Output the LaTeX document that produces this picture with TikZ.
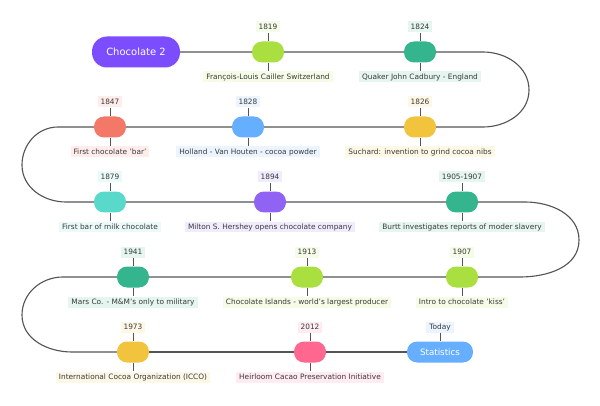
\documentclass[tikz,border=0pt]{standalone}
\usepackage{fontspec}
\setmainfont{DejaVu Sans}
\definecolor{cpurple}{HTML}{7C4DFF}
\definecolor{cviolet}{HTML}{9063F5}
\definecolor{cblue}{HTML}{66AEFF}
\definecolor{clime}{HTML}{A9E040}
\definecolor{cteal}{HTML}{34B58E}
\definecolor{cturq}{HTML}{58D9CA}
\definecolor{csalmon}{HTML}{F47868}
\definecolor{cyellow}{HTML}{F2C43E}
\definecolor{cpink}{HTML}{FF6791}
\definecolor{txt}{HTML}{3A3A3A}
\definecolor{trackgray}{HTML}{555555}

\begin{document}
\begin{tikzpicture}[x=0.05cm,y=-0.05cm,
  pill/.style={fill=#1,rounded corners=0.5cm,minimum width=1.6cm,minimum height=1.05cm,inner sep=0},
  yearlbl/.style={fill=#1!13,text=txt,font=\fontsize{10.5}{12}\selectfont,inner xsep=0.15cm,inner ysep=0,minimum height=0.55cm},
  desc/.style={fill=#1!13,text=txt,font=\fontsize{10.5}{12}\selectfont,inner xsep=0.15cm,inner ysep=0,minimum height=0.55cm},
  stem/.style={draw=trackgray,line width=0.9pt},
  track/.style={draw=trackgray,line width=1.6pt}]

  \useasboundingbox (0,0) rectangle (600,406);

  % start and end
  \node (choc) at (136,52) [fill=cpurple,text=white,rounded corners=0.75cm,minimum width=4.4cm,minimum height=1.55cm,font=\fontsize{14.2}{16}\selectfont]{Chocolate 2};
  \node (stats) at (440,352) [fill=cblue,text=white,rounded corners=0.5cm,minimum width=3.3cm,minimum height=1.05cm,font=\fontsize{12.4}{14}\selectfont]{Statistics};
  \node (ytoday) at (440,327) [yearlbl=cblue]{Today};

  % row 1
  \node (ev1819) at (268,52) [pill=clime]{};
  \node (y1819) at (268,27) [yearlbl=clime]{1819};
  \node (d1819) at (268,77) [desc=clime]{François-Louis Cailler Switzerland};

  \node (ev1824) at (420,52) [pill=cteal]{};
  \node (y1824) at (420,27) [yearlbl=cteal]{1824};
  \node (d1824) at (420,77) [desc=cteal]{Quaker John Cadbury - England};

  % row 2
  \node (ev1826) at (420,127) [pill=cyellow]{};
  \node (y1826) at (420,102) [yearlbl=cyellow]{1826};
  \node (d1826) at (420,152) [desc=cyellow]{Suchard: invention to grind cocoa nibs};

  \node (ev1828) at (248,127) [pill=cblue]{};
  \node (y1828) at (248,102) [yearlbl=cblue]{1828};
  \node (d1828) at (248,152) [desc=cblue]{Holland - Van Houten - cocoa powder};

  \node (ev1847) at (110,127) [pill=csalmon]{};
  \node (y1847) at (110,102) [yearlbl=csalmon]{1847};
  \node (d1847) at (110,152) [desc=csalmon]{First chocolate 'bar'};

  % row 3
  \node (ev1879) at (110,202) [pill=cturq]{};
  \node (y1879) at (110,177) [yearlbl=cturq]{1879};
  \node (d1879) at (110,227) [desc=cturq]{First bar of milk chocolate};

  \node (ev1894) at (270,202) [pill=cviolet]{};
  \node (y1894) at (270,177) [yearlbl=cviolet]{1894};
  \node (d1894) at (270,227) [desc=cviolet]{Milton S. Hershey opens chocolate company};

  \node (ev1905) at (462,202) [pill=cteal]{};
  \node (y1905) at (462,177) [yearlbl=cteal]{1905-1907};
  \node (d1905) at (462,227) [desc=cteal]{Burtt investigates reports of moder slavery};

  % row 4
  \node (ev1907) at (462,277) [pill=clime]{};
  \node (y1907) at (462,252) [yearlbl=clime]{1907};
  \node (d1907) at (462,302) [desc=clime]{Intro to chocolate 'kiss'};

  \node (ev1913) at (307,277) [pill=clime]{};
  \node (y1913) at (307,252) [yearlbl=clime]{1913};
  \node (d1913) at (307,302) [desc=clime]{Chocolate Islands - world's largest producer};

  \node (ev1941) at (133,277) [pill=cteal]{};
  \node (y1941) at (133,252) [yearlbl=cteal]{1941};
  \node (d1941) at (133,302) [desc=cteal]{Mars Co. - M\&M's only to military};

  % row 5
  \node (ev1973) at (133,352) [pill=cyellow]{};
  \node (y1973) at (133,327) [yearlbl=cyellow]{1973};
  \node (d1973) at (133,377) [desc=cyellow]{International Cocoa Organization (ICCO)};

  \node (ev2012) at (310,352) [pill=cpink]{};
  \node (y2012) at (310,327) [yearlbl=cpink]{2012};
  \node (d2012) at (310,377) [desc=cpink]{Heirloom Cacao Preservation Initiative};

  % turning points
  \coordinate (r1a) at (483,52);
  \coordinate (r1) at (529,90);
  \coordinate (r1b) at (483,127);
  \coordinate (l1a) at (58,127);
  \coordinate (l1) at (22,165);
  \coordinate (l1b) at (66,202);
  \coordinate (r2a) at (525,202);
  \coordinate (r2) at (579,240);
  \coordinate (r2b) at (520,277);
  \coordinate (l2a) at (63,277);
  \coordinate (l2) at (22,315);
  \coordinate (l2b) at (72,352);

  % the track
  \draw[track] (choc) -- (ev1819) -- (ev1824) -- (r1a) to[out=0,in=90] (r1) to[out=-90,in=0] (r1b) -- (ev1826);
  \draw[track] (ev1826) -- (ev1828) -- (ev1847) -- (l1a) to[out=180,in=90] (l1) to[out=-90,in=180] (l1b) -- (ev1879);
  \draw[track] (ev1879) -- (ev1894) -- (ev1905) -- (r2a) to[out=0,in=90] (r2) to[out=-90,in=0] (r2b) -- (ev1907);
  \draw[track] (ev1907) -- (ev1913) -- (ev1941) -- (l2a) to[out=180,in=90] (l2) to[out=-90,in=180] (l2b) -- (ev1973);
  \draw[track] (ev1973) -- (ev2012) -- (stats);

  % stems
  \draw[stem] (y1819) -- (ev1819) -- (d1819);
  \draw[stem] (y1824) -- (ev1824) -- (d1824);
  \draw[stem] (y1826) -- (ev1826) -- (d1826);
  \draw[stem] (y1828) -- (ev1828) -- (d1828);
  \draw[stem] (y1847) -- (ev1847) -- (d1847);
  \draw[stem] (y1879) -- (ev1879) -- (d1879);
  \draw[stem] (y1894) -- (ev1894) -- (d1894);
  \draw[stem] (y1905) -- (ev1905) -- (d1905);
  \draw[stem] (y1907) -- (ev1907) -- (d1907);
  \draw[stem] (y1913) -- (ev1913) -- (d1913);
  \draw[stem] (y1941) -- (ev1941) -- (d1941);
  \draw[stem] (y1973) -- (ev1973) -- (d1973);
  \draw[stem] (y2012) -- (ev2012) -- (d2012);
  \draw[stem] (ytoday) -- (stats);

\end{tikzpicture}
\end{document}
